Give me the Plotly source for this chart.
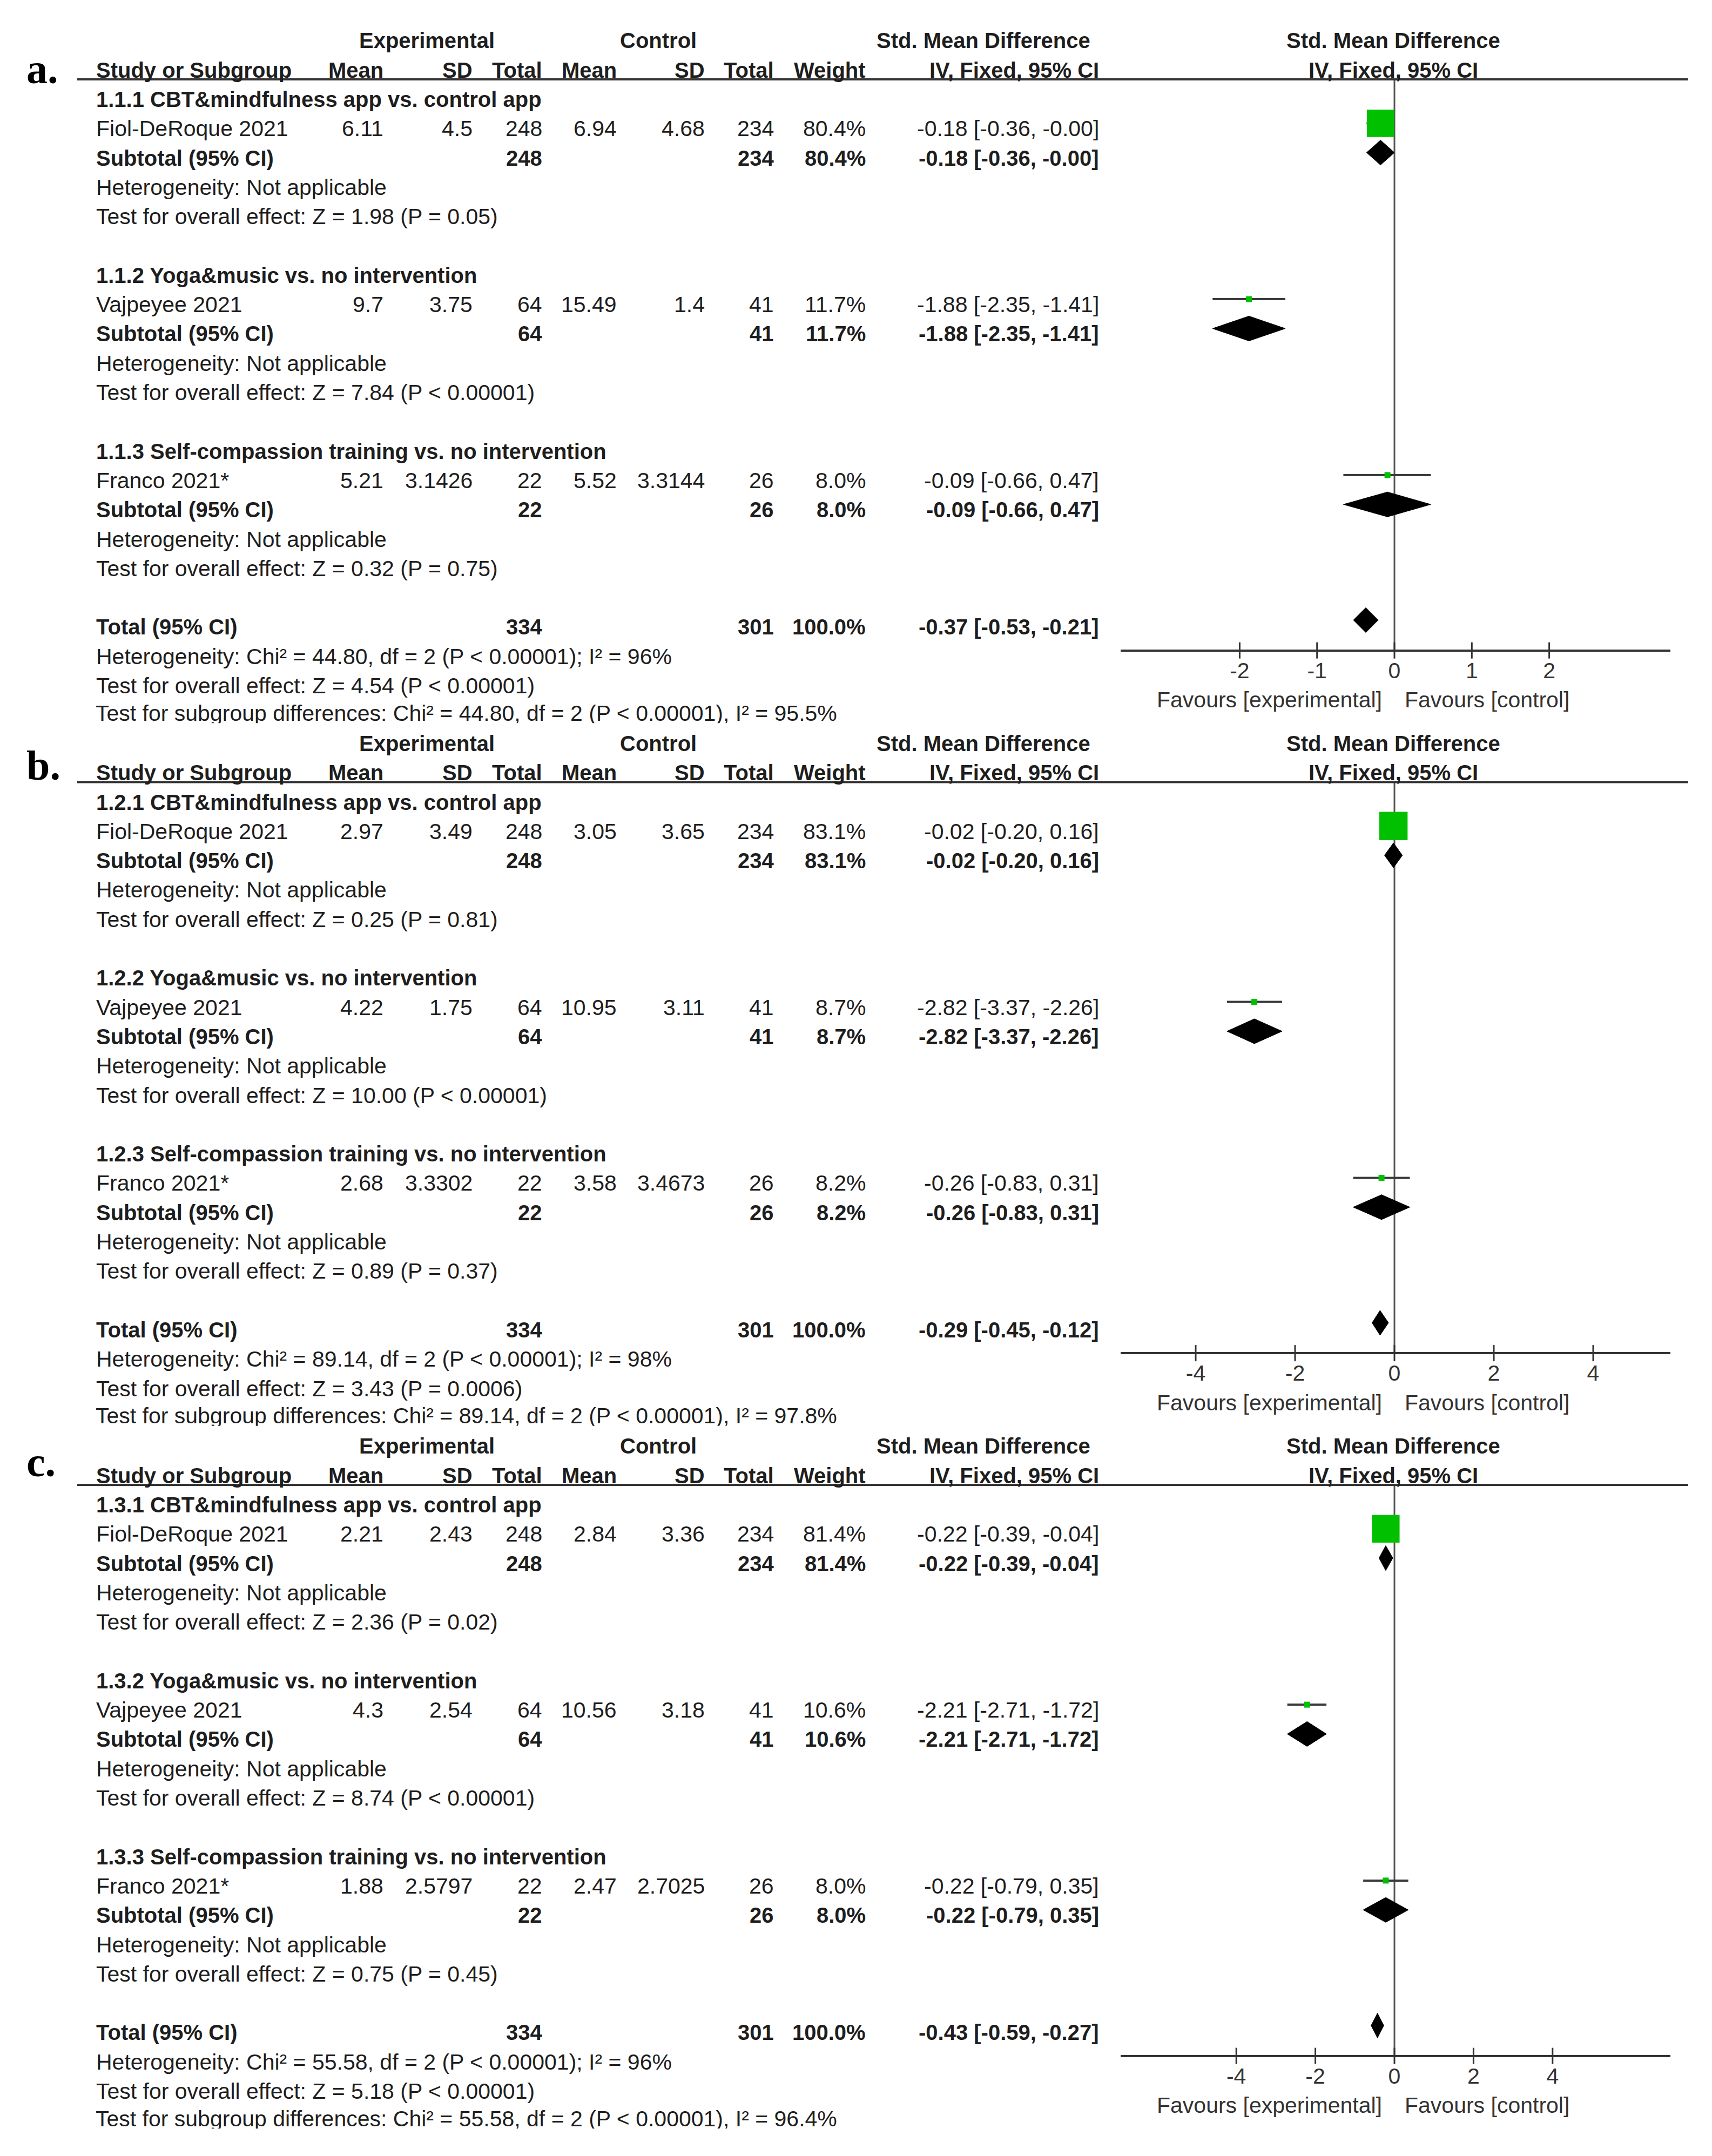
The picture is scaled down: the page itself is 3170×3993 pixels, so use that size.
import plotly.graph_objects as go

W, H = 3170, 3993

# ---------------- data ----------------
panel_labels = ["a.", "b.", "c."]
outcome_codes = ["1.1", "1.2", "1.3"]
subgroup_names = ["CBT&mindfulness app vs. control app",
                  "Yoga&music vs. no intervention",
                  "Self-compassion training vs. no intervention"]
study_names = ["Fiol-DeRoque 2021", "Vajpeyee 2021", "Franco 2021*"]

exp_mean = [[6.11, 9.7, 5.21], [2.97, 4.22, 2.68], [2.21, 4.3, 1.88]]
exp_sd = [[4.5, 3.75, 3.1426], [3.49, 1.75, 3.3302], [2.43, 2.54, 2.5797]]
exp_n = [248, 64, 22]
ctrl_mean = [[6.94, 15.49, 5.52], [3.05, 10.95, 3.58], [2.84, 10.56, 2.47]]
ctrl_sd = [[4.68, 1.4, 3.3144], [3.65, 3.11, 3.4673], [3.36, 3.18, 2.7025]]
ctrl_n = [234, 41, 26]
weight = [[80.4, 11.7, 8.0], [83.1, 8.7, 8.2], [81.4, 10.6, 8.0]]
total_weight = [100.0, 100.0, 100.0]
smd = [[-0.18, -1.88, -0.09], [-0.02, -2.82, -0.26], [-0.22, -2.21, -0.22]]
ci_lo = [[-0.36, -2.35, -0.66], [-0.20, -3.37, -0.83], [-0.39, -2.71, -0.79]]
ci_hi = [[-0.00, -1.41, 0.47], [0.16, -2.26, 0.31], [-0.04, -1.72, 0.35]]
sub_z = [[1.98, 7.84, 0.32], [0.25, 10.00, 0.89], [2.36, 8.74, 0.75]]
sub_p = [["= 0.05", "< 0.00001", "= 0.75"],
         ["= 0.81", "< 0.00001", "= 0.37"],
         ["= 0.02", "< 0.00001", "= 0.45"]]
total_smd = [-0.37, -0.29, -0.43]
total_lo = [-0.53, -0.45, -0.59]
total_hi = [-0.21, -0.12, -0.27]
het_chi2 = [44.80, 89.14, 55.58]
het_df = [2, 2, 2]
het_p = ["< 0.00001", "< 0.00001", "< 0.00001"]
het_i2 = [96, 98, 96]
total_z = [4.54, 3.43, 5.18]
total_p = ["< 0.00001", "= 0.0006", "< 0.00001"]
subdiff_chi2 = [44.80, 89.14, 55.58]
subdiff_df = [2, 2, 2]
subdiff_p = ["< 0.00001", "< 0.00001", "< 0.00001"]
subdiff_i2 = [95.5, 97.8, 96.4]
axis_ticks = [[-2, -1, 0, 1, 2], [-4, -2, 0, 2, 4], [-4, -2, 0, 2, 4]]

# ---------------- layout constants (page pixels) ----------------
PAGE_OFF = 8          # default body margin of the html page
PANEL_DY = 1301.5
LINE_Y0 = 147
ROW0 = 184
ROW_H = 54.3
AXIS_Y0 = 1204.6
FAV_Y0 = 1296
LABEL_BASE = [153, 1443, 2733]
PX_PER_UNIT = [143.3, 92.0, 73.2]
ZERO_PX = 2582
AX_L, AX_R = 2075, 3093
MARK_DY = -10
CLIP_BELOW = 15       # the source panels are cropped through their last line
CLIP_H = 60

SANS = "Liberation Sans, Arial, sans-serif"
SERIF = "Liberation Serif, Times New Roman, serif"
TXT = "#1e1e1e"
GREEN = "rgb(0,192,0)"
FS = 41
FSB = 40

COL_STUDY = 177
COL_EMEAN, COL_ESD, COL_EN = 711, 876, 1005
COL_CMEAN, COL_CSD, COL_CN = 1143, 1306, 1434
COL_W, COL_CI = 1604, 2036
HDR_EXP, HDR_CTRL, HDR_SMD, HDR_GRAPH = 790, 1219, 1821, 2580
FAV_L, FAV_R = 2560, 2600


def px(x):
    return (x - PAGE_OFF) / W


def py(y):
    return 1 - (y - PAGE_OFF) / H


annotations = []
shapes = []
traces = []


def esc(s):
    return s.replace("<", "&lt;")


def txt(xpx, y, s, anchor="left", bold=False, size=None, family=SANS, color=TXT):
    s = esc(s)
    if size is None:
        size = FSB if bold else FS
    if bold:
        s = "<b>" + s + "</b>"
    annotations.append(dict(x=px(xpx), xref="paper", y=y, yref="y", text=s,
                            xanchor=anchor, yanchor="middle", showarrow=False,
                            font=dict(family=family, size=size, color=color),
                            borderpad=0))


def ci_text(e, l, h):
    return f"{e:.2f} [{l:.2f}, {h:.2f}]"


def num(v):
    return f"{v:g}"


clip_axes = {}

for p in range(3):
    off = p * PANEL_DY
    xa = "x" if p == 0 else f"x{p + 1}"
    row = lambda r: ROW0 + r * ROW_H + off
    line_y = LINE_Y0 + off
    axis_y = AXIS_Y0 + off

    # panel label
    txt(48, LABEL_BASE[p] - 26, panel_labels[p], bold=True, size=78, family=SERIF, color="#000")

    # header rows
    txt(HDR_EXP, row(-2), "Experimental", "center", True)
    txt(HDR_CTRL, row(-2), "Control", "center", True)
    txt(HDR_SMD, row(-2), "Std. Mean Difference", "center", True)
    txt(HDR_GRAPH, row(-2), "Std. Mean Difference", "center", True)
    txt(COL_STUDY, row(-1), "Study or Subgroup", "left", True)
    for xpx, s in [(COL_EMEAN, "Mean"), (COL_ESD, "SD"), (COL_EN, "Total"),
                   (COL_CMEAN, "Mean"), (COL_CSD, "SD"), (COL_CN, "Total"),
                   (COL_W, "Weight"), (COL_CI, "IV, Fixed, 95% CI")]:
        txt(xpx, row(-1), s, "right", True)
    txt(HDR_GRAPH, row(-1), "IV, Fixed, 95% CI", "center", True)

    shapes.append(dict(type="line", xref="paper", yref="y", x0=px(143), x1=px(3126),
                       y0=line_y, y1=line_y, line=dict(color="#333", width=4)))

    sq_x, sq_y, sq_s, err_p, err_m = [], [], [], [], []
    dia_x, dia_y = [], []
    for g in range(3):
        b = 6 * g
        txt(COL_STUDY, row(b), f"{outcome_codes[p]}.{g + 1} {subgroup_names[g]}", "left", True)
        # study row
        r1 = row(b + 1)
        txt(COL_STUDY, r1, study_names[g])
        txt(COL_EMEAN, r1, num(exp_mean[p][g]), "right")
        txt(COL_ESD, r1, num(exp_sd[p][g]), "right")
        txt(COL_EN, r1, str(exp_n[g]), "right")
        txt(COL_CMEAN, r1, num(ctrl_mean[p][g]), "right")
        txt(COL_CSD, r1, num(ctrl_sd[p][g]), "right")
        txt(COL_CN, r1, str(ctrl_n[g]), "right")
        txt(COL_W, r1, f"{weight[p][g]:.1f}%", "right")
        txt(COL_CI, r1, ci_text(smd[p][g], ci_lo[p][g], ci_hi[p][g]), "right")
        # subtotal row
        r2 = row(b + 2)
        txt(COL_STUDY, r2, "Subtotal (95% CI)", "left", True)
        txt(COL_EN, r2, str(exp_n[g]), "right", True)
        txt(COL_CN, r2, str(ctrl_n[g]), "right", True)
        txt(COL_W, r2, f"{weight[p][g]:.1f}%", "right", True)
        txt(COL_CI, r2, ci_text(smd[p][g], ci_lo[p][g], ci_hi[p][g]), "right", True)
        txt(COL_STUDY, row(b + 3), "Heterogeneity: Not applicable")
        txt(COL_STUDY, row(b + 4), f"Test for overall effect: Z = {sub_z[p][g]:.2f} (P {sub_p[p][g]})")

        ym = r1 + MARK_DY
        sq_x.append(smd[p][g])
        sq_y.append(ym)
        sq_s.append(max(0.63 * weight[p][g], 11))
        err_p.append(ci_hi[p][g] - smd[p][g])
        err_m.append(smd[p][g] - ci_lo[p][g])

        yd = r2 + MARK_DY
        dia_x += [ci_lo[p][g], smd[p][g], ci_hi[p][g], smd[p][g], ci_lo[p][g], None]
        dia_y += [yd, yd - 23, yd, yd + 23, yd, None]

    # totals
    rt = row(18)
    txt(COL_STUDY, rt, "Total (95% CI)", "left", True)
    txt(COL_EN, rt, str(sum(exp_n)), "right", True)
    txt(COL_CN, rt, str(sum(ctrl_n)), "right", True)
    txt(COL_W, rt, f"{total_weight[p]:.1f}%", "right", True)
    txt(COL_CI, rt, ci_text(total_smd[p], total_lo[p], total_hi[p]), "right", True)
    txt(COL_STUDY, row(19), f"Heterogeneity: Chi² = {het_chi2[p]:.2f}, df = {het_df[p]} (P {het_p[p]}); I² = {het_i2[p]}%")
    txt(COL_STUDY, row(20), f"Test for overall effect: Z = {total_z[p]:.2f} (P {total_p[p]})")

    # last line: drawn as a text trace in a small subplot so it is cropped like the source
    r21 = row(21)
    clip_bot = r21 + CLIP_BELOW
    cx, cy = f"x{4 + p}", f"y{2 + p}"
    clip_axes[f"xaxis{4 + p}"] = dict(domain=[px(PAGE_OFF), px(2000)], range=[PAGE_OFF, 2000],
                                      anchor=cy, visible=False, fixedrange=True)
    clip_axes[f"yaxis{2 + p}"] = dict(domain=[py(clip_bot), py(clip_bot - CLIP_H)],
                                      range=[clip_bot, clip_bot - CLIP_H],
                                      anchor=cx, visible=False, fixedrange=True)
    traces.append(go.Scatter(
        x=[COL_STUDY], y=[r21], mode="text", textposition="middle right",
        text=[esc(f"Test for subgroup differences: Chi² = {subdiff_chi2[p]:.2f}, df = {subdiff_df[p]} "
                  f"(P {subdiff_p[p]}), I² = {subdiff_i2[p]}%")],
        textfont=dict(family=SANS, size=FS, color=TXT), cliponaxis=True,
        xaxis=cx, yaxis=cy, hoverinfo="skip", showlegend=False))

    yt = rt + MARK_DY - 3
    dia_x += [total_lo[p], total_smd[p], total_hi[p], total_smd[p], total_lo[p], None]
    dia_y += [yt, yt - 23, yt, yt + 23, yt, None]

    # favours labels
    txt(FAV_L, FAV_Y0 + off, "Favours [experimental]", "right", color="#333")
    txt(FAV_R, FAV_Y0 + off, "Favours [control]", "left", color="#333")

    common = dict(xaxis=xa, yaxis="y", hoverinfo="skip", showlegend=False)
    # zero line
    traces.append(go.Scatter(x=[0, 0], y=[line_y, axis_y], mode="lines",
                             line=dict(color="#555", width=3), **common))
    # axis ticks crossing the axis line
    tx, ty = [], []
    for t in axis_ticks[p]:
        tx += [t, t, None]
        ty += [axis_y - 15, axis_y + 15, None]
    traces.append(go.Scatter(x=tx, y=ty, mode="lines",
                             line=dict(color="#333", width=3), **common))
    # diamonds
    traces.append(go.Scatter(x=dia_x, y=dia_y, mode="lines", fill="toself",
                             fillcolor="#000", line=dict(color="#000", width=1), **common))
    # study squares with CI whiskers
    traces.append(go.Scatter(x=sq_x, y=sq_y, mode="markers",
                             marker=dict(symbol="square", size=sq_s, color=GREEN,
                                         opacity=1, line=dict(width=0)),
                             error_x=dict(type="data", symmetric=False, array=err_p,
                                          arrayminus=err_m, width=0, thickness=4,
                                          color="#3a3a3a"),
                             **common))

fig = go.Figure(data=traces)

layout_axes = {}
for p in range(3):
    key = "xaxis" if p == 0 else f"xaxis{p + 1}"
    u = PX_PER_UNIT[p]
    axis_y = AXIS_Y0 + p * PANEL_DY
    layout_axes[key] = dict(
        domain=[px(AX_L), px(AX_R)],
        range=[(AX_L - ZERO_PX) / u, (AX_R - ZERO_PX) / u],
        anchor="free", position=py(axis_y),
        showline=True, linecolor="#333", linewidth=4,
        ticks="", tickvals=axis_ticks[p], ticktext=[f"{t:g}" for t in axis_ticks[p]],
        tickfont=dict(family=SANS, size=FS, color="#333"),
        showgrid=False, zeroline=False, fixedrange=True,
    )
layout_axes.update(clip_axes)

fig.update_layout(
    width=W, height=H, autosize=False,
    margin=dict(l=0, r=0, t=0, b=0),
    paper_bgcolor="white", plot_bgcolor="rgba(0,0,0,0)",
    yaxis=dict(domain=[0, 1], range=[H + PAGE_OFF, PAGE_OFF], visible=False, anchor="x",
               showgrid=False, zeroline=False, fixedrange=True),
    annotations=annotations, shapes=shapes,
    showlegend=False,
    **layout_axes,
)

fig.write_html("out.html")
